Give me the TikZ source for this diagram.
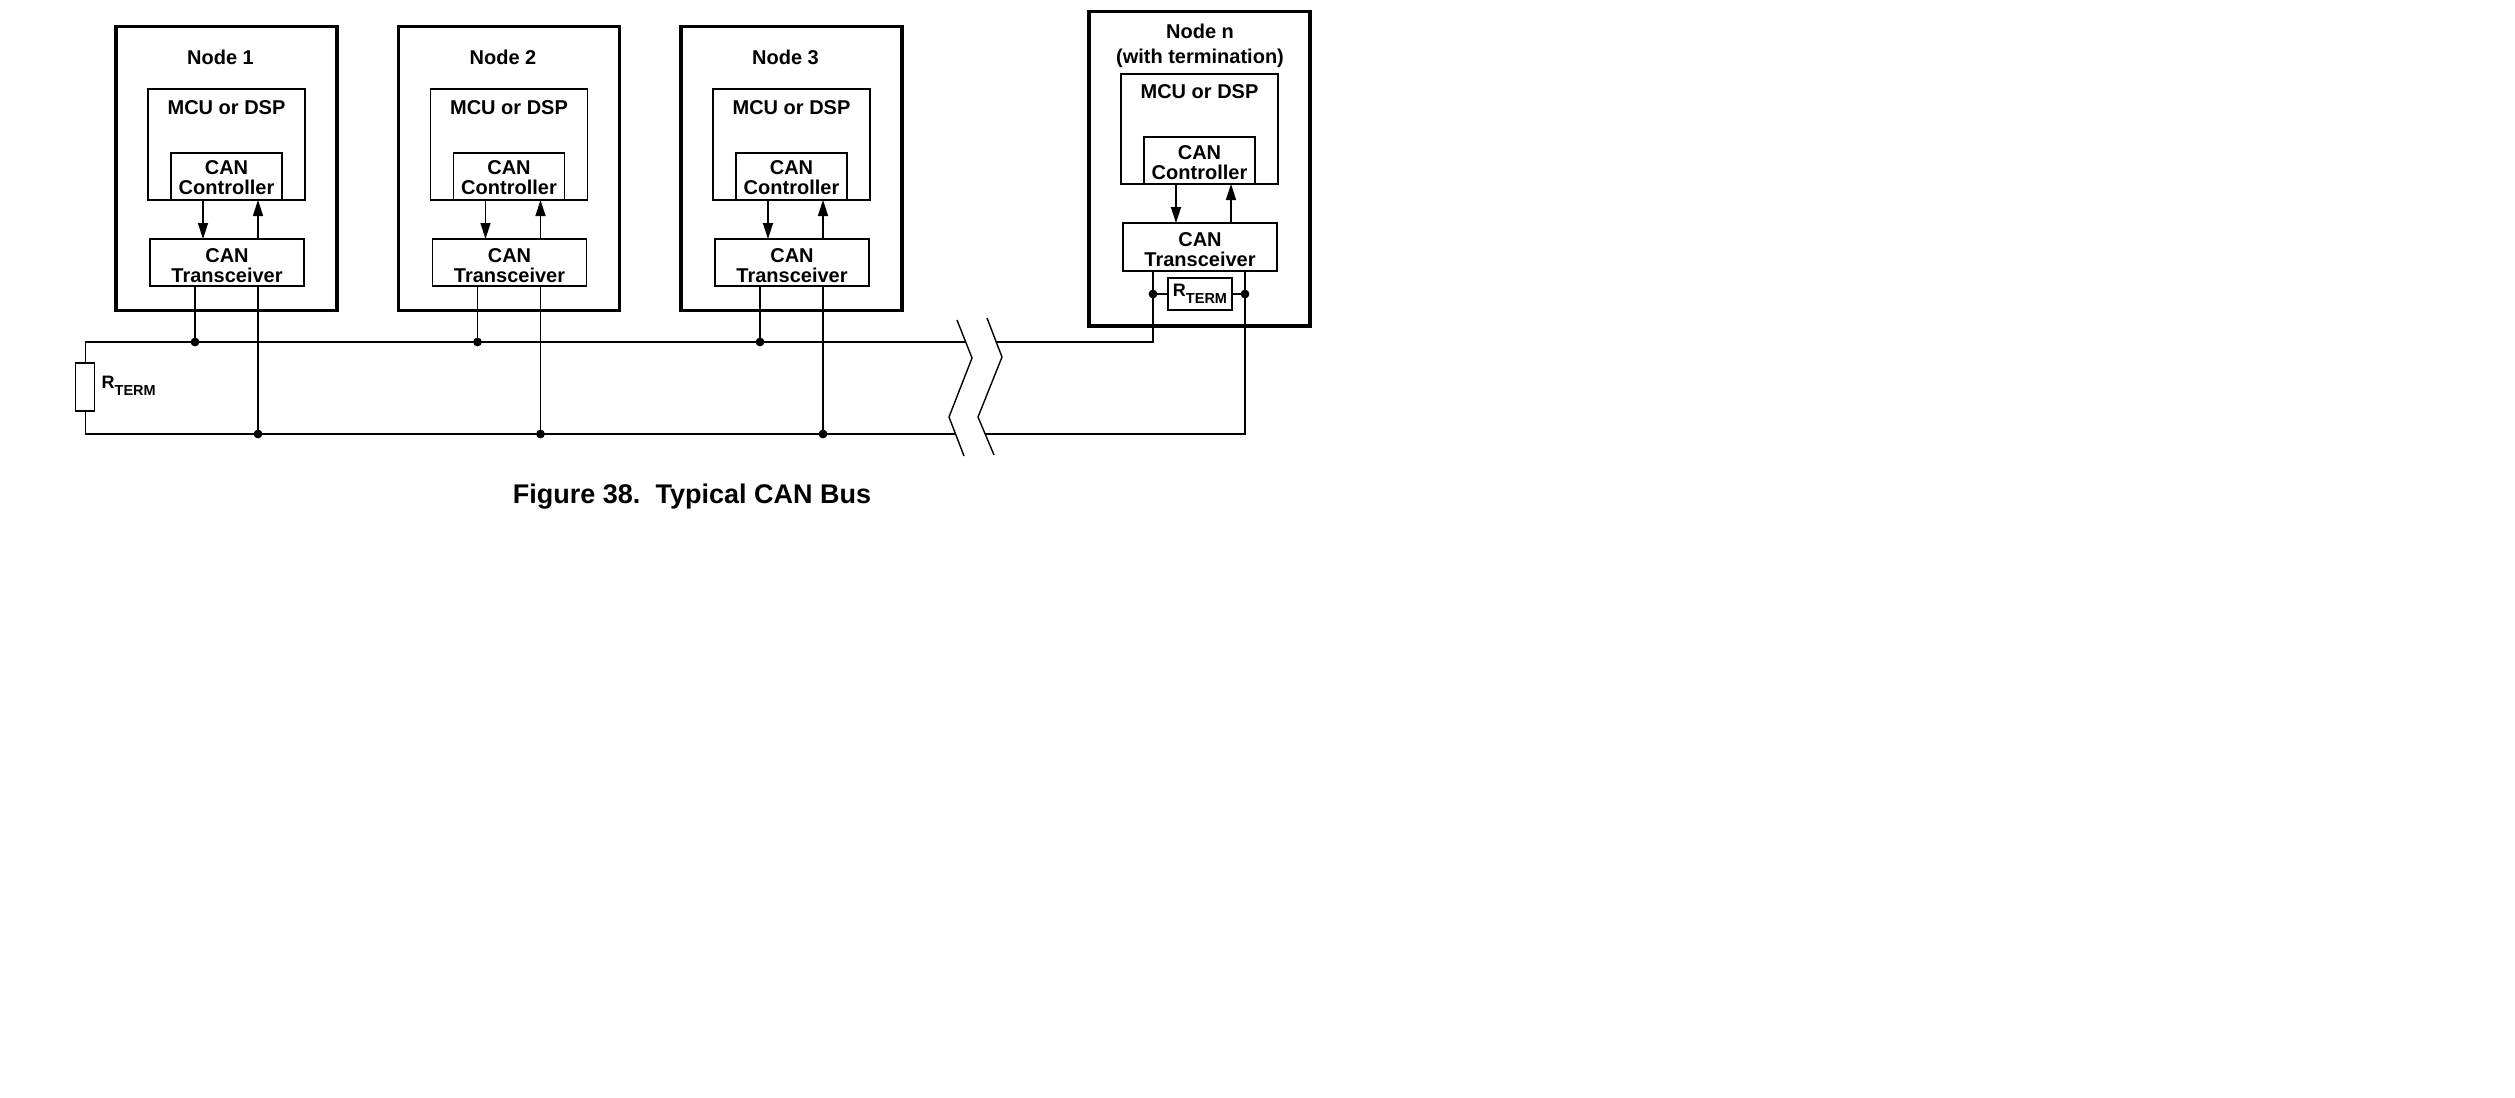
\documentclass[tikz,border=0pt]{standalone}
\usepackage{fontspec}
\setmainfont{Liberation Sans}
\usetikzlibrary{arrows.meta,calc}
\newcommand\rtermtxt{\fontsize{18}{18}\selectfont\bfseries R\raisebox{-7pt}{\fontsize{14.5}{14.5}\selectfont TERM}}
\begin{document}
\begin{tikzpicture}[x=1pt,y=-1pt,
  outerbox/.style={draw,line width=3.4pt,minimum width=221pt,inner sep=0pt,outer sep=0pt},
  box/.style={draw,line width=1.4pt,inner sep=0pt,outer sep=0pt},
  txt/.style={inner sep=0pt,align=center,font=\fontsize{20}{20}\selectfont\bfseries},
  wire/.style={line width=1.4pt},
  sig/.style={line width=1.4pt,-{Triangle[length=16pt,width=10pt]}},
  dot/.style={circle,fill,inner sep=0pt,minimum size=8.8pt},
]
\useasboundingbox (0,0) rectangle (2515,1097);

% ---- Nodes 1..3 ----
\foreach \i/\dx in {1/0,2/282.5,3/565}{
  \node[outerbox,minimum height=284pt] (node\i) at ({226.5+\dx},168.7) {};
  \node[txt,anchor=base] (title\i) at ({220.5+\dx},64.5) {Node \i};
  \node[box,minimum width=157pt,minimum height=111pt] (mcu\i) at ({226.5+\dx},144.5) {};
  \node[txt,anchor=base] (mcut\i) at ({226.5+\dx},114.3) {MCU or DSP};
  \node[box,minimum width=111pt,minimum height=47pt] (ctl\i) at ({226.5+\dx},176.5) {};
  \node[txt] (ctlt\i) at ({226.5+\dx},178) {CAN\\Controller};
  \node[box,minimum width=154pt,minimum height=47pt] (trx\i) at ({227+\dx},262.5) {};
  \node[txt] (trxt\i) at ({227+\dx},265.3) {CAN\\Transceiver};
  \draw[sig] ([xshift=-23.5pt]ctl\i.south) -- ([xshift=-24pt]trx\i.north);
  \draw[sig] ([xshift=31pt]trx\i.north) -- ([xshift=31.5pt]ctl\i.south);
  \node[dot] (ja\i) at ({195+\dx},342) {};
  \node[dot] (jb\i) at ({258+\dx},434) {};
  \draw[wire] (trx\i.south -| ja\i) -- (ja\i.center);
  \draw[wire] (trx\i.south -| jb\i) -- (jb\i.center);
}

% ---- Node n ----
\node[outerbox,minimum height=314.3pt] (noden) at (1199.5,168.85) {};
\node[txt,anchor=base] (titlen) at (1200,39) {Node n};
\node[txt,anchor=base] (titlen2) at (1200,64) {(with termination)};
\node[box,minimum width=157pt,minimum height=110pt] (mcun) at (1199.5,129) {};
\node[txt,anchor=base] (mcutn) at (1199.5,98.3) {MCU or DSP};
\node[box,minimum width=111pt,minimum height=47pt] (ctln) at (1199.5,160.5) {};
\node[txt] (ctltn) at (1199.5,163) {CAN\\Controller};
\node[box,minimum width=154pt,minimum height=48pt] (trxn) at (1200,247) {};
\node[txt] (trxtn) at (1200,249.3) {CAN\\Transceiver};
\draw[sig] ([xshift=-23.5pt]ctln.south) -- ([xshift=-24pt]trxn.north);
\draw[sig] ([xshift=31pt]trxn.north) -- ([xshift=31.5pt]ctln.south);
\node[box,minimum width=64pt,minimum height=32pt] (rtn) at (1200,294) {\rtermtxt};
\node[dot] (jn1) at (1153,294) {};
\node[dot] (jn2) at (1245,294) {};
\draw[wire] (jn1.center) -- (rtn.west);
\draw[wire] (rtn.east) -- (jn2.center);

% ---- break symbol ----
\coordinate (z1a) at (957,320);
\coordinate (z1b) at (972,358);
\coordinate (z1c) at (949,417);
\coordinate (z1d) at (964,456);
\coordinate (z2a) at (987,318);
\coordinate (z2b) at (1002,357);
\coordinate (z2c) at (978,417);
\coordinate (z2d) at (994,455);
\draw[wire] (z1a) -- (z1b) -- (z1c) -- (z1d);
\draw[wire] (z2a) -- (z2b) -- (z2c) -- (z2d);
\coordinate (b1t) at (965.7,342);
\coordinate (b2t) at (996.2,342);
\coordinate (b1b) at (955.5,434);
\coordinate (b2b) at (985.2,434);

% ---- bus wiring ----
\node[box,minimum width=19pt,minimum height=48pt] (rt) at (85.2,387) {};
\node[anchor=base west,inner sep=0pt] (rtl) at (101.5,388) {\rtermtxt};
\coordinate (tl) at (85.2,342);
\coordinate (bl) at (85.2,434);
\draw[wire] (rt.north) -- (tl) -- (b1t);
\draw[wire] (rt.south) -- (bl) -- (b1b);
\coordinate (cn1) at (1153,342);
\coordinate (cn2) at (1245,434);
\draw[wire] (trxn.south -| jn1) -- (jn1.center) -- (cn1) -- (b2t);
\draw[wire] (trxn.south -| jn2) -- (jn2.center) -- (cn2) -- (b2b);

% ---- caption ----
\node[anchor=base,inner sep=0pt,font=\fontsize{27}{27}\selectfont\bfseries] (cap) at (692,503.3) {Figure 38.\ \ Typical CAN Bus};
\end{tikzpicture}
\end{document}
